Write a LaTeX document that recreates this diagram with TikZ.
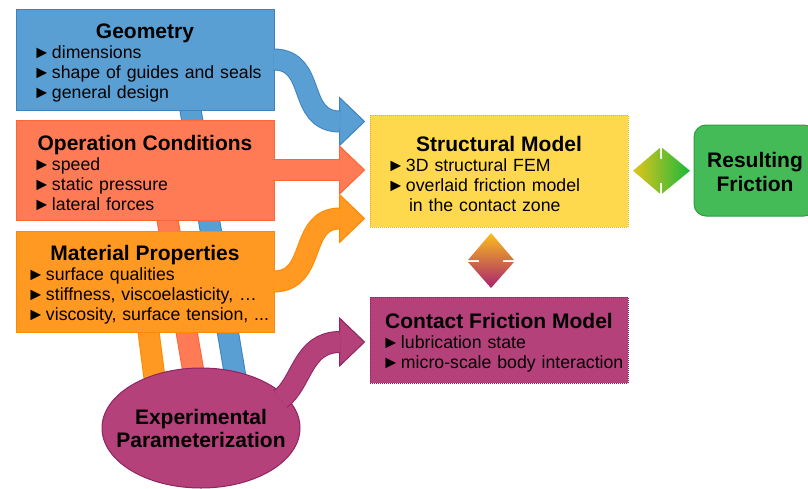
\documentclass[tikz,border=0pt]{standalone}
\usepackage{fontspec}
\setmainfont{Liberation Sans}
\usetikzlibrary{shapes.geometric,calc,backgrounds}

\definecolor{geoblue}{HTML}{5A9FD4}
\definecolor{geoline}{HTML}{3D83C1}
\definecolor{opred}{HTML}{FF7B55}
\definecolor{opline}{HTML}{FF6633}
\definecolor{matorange}{HTML}{FF9922}
\definecolor{matline}{HTML}{FF8A00}
\definecolor{smyellow}{HTML}{FFD94D}
\definecolor{smline}{HTML}{F0B020}
\definecolor{cfmag}{HTML}{B5417B}
\definecolor{cfline}{HTML}{8E2462}
\definecolor{rfgreen}{HTML}{45BB58}
\definecolor{rfline}{HTML}{2E9E3F}

\newcommand\boxtitle[1]{\makebox[\linewidth]{\rule{0pt}{21pt}\bfseries\fontsize{21}{20}\selectfont #1}\\}
\newcommand\bitem[2][13]{\hspace*{#1pt}\makebox[19pt][l]{►}#2}

\tikzset{
  box/.style={rectangle, minimum width=258pt, inner xsep=4pt, inner ysep=0pt, text width=250pt,
    line width=1pt, align=left, font=\fontsize{17.7}{20}\selectfont},
  band/.style 2 args={draw=#2, double=#1, double distance=20pt, line width=1pt},
  fathead/.style 2 args={fill=#1, draw=#2, line width=1pt},
  dotbox/.style={dash pattern=on 1pt off 1pt}
}

\begin{document}
\begin{tikzpicture}[x=1pt,y=-1pt]
\useasboundingbox (0,0) rectangle (808,488);

% Input boxes
\node[box, fill=geoblue, draw=geoline, minimum height=101pt] (geo) at (145,59.5)
  {\boxtitle{Geometry}\bitem{dimensions}\\ \bitem{shape of guides and seals}\\ \bitem{general design}};
\node[box, fill=opred, draw=opline, minimum height=100pt] (op) at (145,170)
  {\boxtitle{Operation Conditions}\bitem{speed}\\ \bitem{static pressure}\\ \bitem{lateral forces}};
\node[box, fill=matorange, draw=matline, minimum height=101pt] (mp) at (145,281.5)
  {\boxtitle{Material Properties}\bitem[7]{surface qualities}\\ \bitem[7]{stiffness, viscoelasticity, …}\\ \bitem[7]{viscosity, surface tension, ...}};

% Models
\node[box, fill=smyellow, draw=smline, dotbox, minimum height=112pt] (sm) at (499,171)
  {\boxtitle{Structural Model}\bitem{3D structural FEM}\\ \bitem{overlaid friction model}\\ \hspace*{35pt}in the contact zone};
\node[box, fill=cfmag, draw=cfline, dotbox, minimum height=86pt] (cf) at (499,340)
  {\boxtitle{Contact Friction Model}\bitem[8]{lubrication state}\\ \bitem[8]{micro-scale body interaction}};
\node[rectangle, rounded corners=12pt, fill=rfgreen, draw=rfline, line width=1pt, minimum width=122pt, minimum height=91pt,
  align=center, font=\bfseries\fontsize{21}{24}\selectfont] (rf) at (755,170.5) {\rule{0pt}{18pt}Resulting\\Friction};

% Experiments
\node[ellipse, fill=cfmag, draw=cfline, line width=1pt, minimum width=198pt, minimum height=120pt, inner sep=0pt,
  align=center, font=\bfseries\fontsize{21}{23}\selectfont] (ep) at (201,428)
  {\makebox[0pt]{Experimental}\\\makebox[0pt]{Parameterization}};

% Bands behind the boxes
\begin{scope}[on background layer]
\draw[band={geoblue}{geoline}] ($(ep.center)+(43,0)$) -- ($(geo.center)+(37,0)$);
\draw[band={opred}{opline}] ($(ep.center)+(2,0)$) -- ($(op.center)+(14,0)$);
\draw[band={matorange}{matline}] ($(ep.center)+(-40,0)$) -- ($(mp.center)+(-3,0)$);
\end{scope}

% Fat arrows into the models
\coordinate (geotip) at ($(sm.north west)+(-5,7)$);
\coordinate (optip) at ($(sm.west)+(-5,-1)$);
\coordinate (mptip) at ($(sm.south west)+(-5,-9)$);
\coordinate (eptip) at ($(cf.west)+(-5,2)$);

\filldraw[fathead={geoblue}{geoline}] (geotip) -- ++(-25,-24) -- ++(0,48) -- cycle;
\draw[band={geoblue}{geoline}] ([xshift=-1pt]geo.east) .. controls +(44,0) and +(-44,0) .. ($(geotip)+(-24.5,0)$);

\filldraw[fathead={opred}{opline}] (optip) -- ++(-25,-24) -- ++(0,48) -- cycle;
\draw[band={opred}{opline}] ([xshift=-1pt]op.east) -- ($(optip)+(-24.5,0)$);

\filldraw[fathead={matorange}{matline}] (mptip) -- ++(-25,-24) -- ++(0,48) -- cycle;
\draw[band={matorange}{matline}] ([xshift=-1pt]mp.east) .. controls +(44,0) and +(-42,0) .. ($(mptip)+(-24.5,0)$);

\filldraw[fathead={cfmag}{cfline}] (eptip) -- ++(-25,-24) -- ++(0,48) -- cycle;
\draw[band={cfmag}{cfline}] ($(ep.center)!0.93!(ep.20)$) .. controls +(22,-16) and +(-38,0) .. ($(eptip)+(-24.5,0)$);

% Double arrows between models
\coordinate (hmid) at ($(sm.east)!0.5!(rf.west)$);
\coordinate (vmid) at ($(sm.south)!0.5!(cf.north)+(-8,-1)$);
\shade[shift={(hmid)}, left color={rgb,255:red,226;green,196;blue,28}, right color={rgb,255:red,25;green,184;blue,58}]
  (-28,0) -- (-1,-23) -- (-1,-12) -- (1,-12) -- (1,-23) -- (29,0) -- (1,23) -- (1,12) -- (-1,12) -- (-1,23) -- cycle;
\shade[shift={(vmid)}, top color={rgb,255:red,251;green,190;blue,30}, bottom color={rgb,255:red,168;green,33;blue,110}]
  (0,-28) -- (23,-1) -- (12,-1) -- (12,1) -- (23,1) -- (0,27) -- (-23,1) -- (-12,1) -- (-12,-1) -- (-23,-1) -- cycle;

\end{tikzpicture}
\end{document}
